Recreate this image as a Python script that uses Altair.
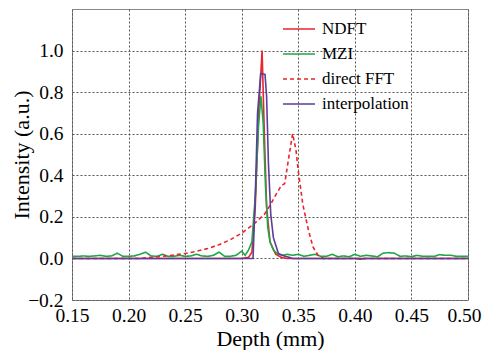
import altair as alt
import pandas as pd

# ---- data ----
series_names = ["NDFT", "MZI", "direct FFT", "interpolation"]
series_colors = ["#e8262b", "#1fa648", "#e8262b", "#5a3e9b"]
series_dash = [[1, 0], [1, 0], [4, 3], [1, 0]]

ndft_x = [0.150, 0.300, 0.306, 0.309, 0.312, 0.315, 0.318, 0.320, 0.322, 0.325, 0.330, 0.335, 0.340, 0.400, 0.405, 0.410, 0.500]
ndft_y = [0.000, 0.000, 0.005, 0.030, 0.250, 0.700, 1.000, 0.600, 0.250, 0.080, 0.020, 0.005, 0.000, 0.000, -0.004, 0.000, 0.000]

mzi_x = [0.150, 0.155, 0.160, 0.165, 0.170, 0.175, 0.180, 0.185, 0.190, 0.195, 0.200, 0.205, 0.210, 0.215, 0.220,
         0.225, 0.230, 0.235, 0.240, 0.245, 0.250, 0.255, 0.260, 0.265, 0.270, 0.275, 0.280, 0.285, 0.290, 0.295,
         0.300, 0.303, 0.306, 0.309, 0.312, 0.315, 0.317, 0.319, 0.321, 0.323, 0.325, 0.328, 0.332, 0.336, 0.340,
         0.345, 0.350, 0.355, 0.360, 0.365, 0.370, 0.375, 0.380, 0.385, 0.390, 0.395, 0.400, 0.405, 0.410, 0.415,
         0.420, 0.425, 0.430, 0.435, 0.440, 0.445, 0.450, 0.455, 0.460, 0.465, 0.470, 0.475, 0.480, 0.485, 0.490,
         0.495, 0.500]
mzi_y = [0.010, 0.010, 0.012, 0.010, 0.012, 0.015, 0.010, 0.012, 0.025, 0.010, 0.010, 0.012, 0.020, 0.030, 0.012,
         0.010, 0.020, 0.010, 0.010, 0.015, 0.010, 0.012, 0.020, 0.012, 0.010, 0.015, 0.030, 0.010, 0.010, 0.015,
         0.035, 0.015, 0.040, 0.080, 0.300, 0.650, 0.780, 0.650, 0.350, 0.150, 0.080, 0.040, 0.020, 0.015, 0.020,
         0.015, 0.020, 0.010, 0.015, 0.020, 0.010, 0.010, 0.020, 0.008, 0.012, 0.008, 0.020, 0.010, 0.015, 0.012,
         0.008, 0.025, 0.028, 0.025, 0.010, 0.012, 0.008, 0.015, 0.010, 0.010, 0.010, 0.018, 0.015, 0.015, 0.010,
         0.010, 0.010]

fft_x = [0.150, 0.210, 0.220, 0.230, 0.240, 0.250, 0.260, 0.270, 0.280, 0.290, 0.300, 0.310, 0.320, 0.325,
         0.330, 0.335, 0.338, 0.342, 0.345, 0.348, 0.350, 0.354, 0.359, 0.363, 0.3675, 0.372, 0.500]
fft_y = [0.000, 0.000, 0.005, 0.010, 0.016, 0.024, 0.034, 0.048, 0.066, 0.090, 0.122, 0.162, 0.212, 0.255,
         0.305, 0.350, 0.360, 0.500, 0.600, 0.520, 0.420, 0.260, 0.135, 0.055, 0.015, 0.000, 0.000]

interp_x = [0.150, 0.310, 0.312, 0.314, 0.3168, 0.3206, 0.322, 0.3236, 0.3257, 0.328, 0.3324, 0.336, 0.340, 0.345, 0.500]
interp_y = [0.000, 0.000, 0.300, 0.700, 0.890, 0.885, 0.780, 0.460, 0.210, 0.100, 0.024, 0.015, 0.008, 0.000, 0.000]

x_ticks = [0.15, 0.20, 0.25, 0.30, 0.35, 0.40, 0.45, 0.50]
y_ticks = [-0.2, 0.0, 0.2, 0.4, 0.6, 0.8, 1.0]

# ---- build table ----
rows = []
for name, xs, ys in [("NDFT", ndft_x, ndft_y), ("MZI", mzi_x, mzi_y),
                     ("direct FFT", fft_x, fft_y), ("interpolation", interp_x, interp_y)]:
    for i, (a, b) in enumerate(zip(xs, ys)):
        rows.append({"series": name, "depth": a, "intensity": b, "idx": i})
df = pd.DataFrame(rows)

FONT = "Times New Roman"

leg = dict(title=None, orient="none", legendX=210, legendY=3,
           symbolType="stroke", symbolSize=1024, symbolStrokeWidth=1.6,
           labelFont=FONT, labelFontSize=17, labelColor="#000",
           labelOffset=6, rowPadding=-8, padding=0)
color = alt.Color("series:N",
                  scale=alt.Scale(domain=series_names, range=series_colors),
                  legend=alt.Legend(**leg))
dash = alt.StrokeDash("series:N",
                      scale=alt.Scale(domain=series_names, range=series_dash),
                      legend=alt.Legend(**leg))

x = alt.X("depth:Q", scale=alt.Scale(domain=[0.15, 0.50], nice=False, zero=False),
          axis=alt.Axis(title="Depth (mm)", values=x_ticks, format=".2f",
                        labelBaseline="alphabetic", labelPadding=21, labelFlush=False,
                        labelOffset={"condition": {"test": "datum.value >= 0.499", "value": -4}, "value": 0},
                        titleX=198, titleY=45, titleBaseline="alphabetic"))
y = alt.Y("intensity:Q", scale=alt.Scale(domain=[-0.2, 1.2], nice=False),
          axis=alt.Axis(title="Intensity (a.u.)", values=y_ticks, format=".1f",
                        labelPadding=9, labelFlush=False,
                        titleX=-44, titleY=145.5, titleAngle=-90, titleAlign="center",
                        titleBaseline="alphabetic"))

layers = []
for name in series_names:
    layers.append(
        alt.Chart(df).transform_filter(alt.datum.series == name)
        .mark_line(strokeWidth=1.6, clip=True)
        .encode(x=x, y=y, color=color, strokeDash=dash, order="idx:Q")
    )

chart = alt.layer(*layers).properties(
    width=396, height=291,
    autosize=alt.AutoSizeParams(type="none"),
    padding={"left": 64, "top": 1, "right": 14, "bottom": 50},
).configure_view(stroke="#888", strokeWidth=1).configure_axis(
    domain=False, ticks=False, tickSize=0,
    grid=True, gridColor="#555", gridDash=[2, 2], gridWidth=1, gridOpacity=1,
    labelFont=FONT, labelFontSize=19.5, labelColor="#000",
    titleFont=FONT, titleFontSize=22, titleColor="#000", titleFontWeight="normal",
)

chart.save("out.html", embed_options={"renderer": "svg", "actions": False})
